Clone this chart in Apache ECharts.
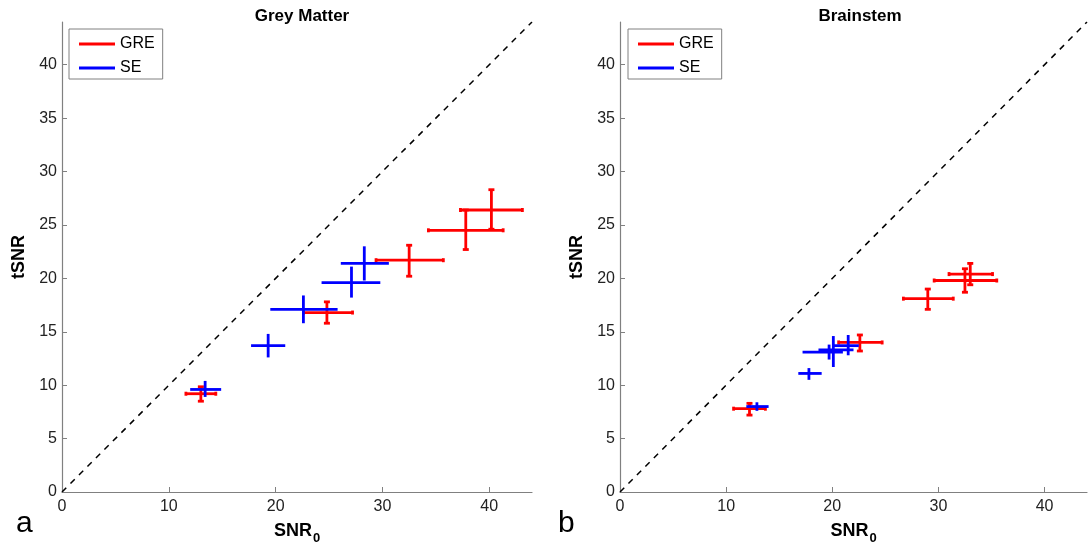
<!DOCTYPE html>
<html lang="en">
<head>
    <meta charset="UTF-8">
    <title>tSNR vs SNR0</title>
    <script src="https://cdn.jsdelivr.net/npm/echarts@6/dist/echarts.min.js"></script>
</head>
<body style="margin:0;background:#fff">
<div id="chart" style="width:1089px;height:550px"></div>

<script type="text/javascript">
    // each row: [snr0, tsnr, snr0 low, snr0 high, tsnr low, tsnr high]
    var gmGre = [
        [13.0, 9.2, 11.6, 14.4, 8.5, 9.85],
        [24.8, 16.8, 22.6, 27.2, 15.8, 17.8],
        [32.5, 21.7, 29.4, 35.7, 20.2, 23.1],
        [37.8, 24.5, 34.3, 41.3, 22.7, 26.4],
        [40.2, 26.4, 37.3, 43.1, 24.6, 28.3]
    ];
    var gmSe = [
        [13.4, 9.6, 12.0, 14.9, 8.9, 10.4],
        [19.3, 13.7, 17.7, 20.9, 12.6, 14.8],
        [22.6, 17.1, 19.5, 25.8, 15.8, 18.4],
        [27.1, 19.6, 24.3, 29.8, 18.2, 21.1],
        [28.3, 21.4, 26.1, 30.6, 19.8, 23.0]
    ];
    var bsGre = [
        [12.2, 7.8, 10.7, 13.7, 7.2, 8.3],
        [22.6, 14.0, 20.6, 24.7, 13.2, 14.7],
        [29.0, 18.1, 26.7, 31.4, 17.1, 19.0],
        [32.5, 19.8, 29.6, 35.5, 18.7, 20.9],
        [33.0, 20.4, 31.0, 35.1, 19.4, 21.4]
    ];
    var bsSe = [
        [12.9, 8.0, 11.9, 14.0, 7.6, 8.4],
        [17.8, 11.1, 16.8, 19.0, 10.5, 11.6],
        [20.1, 13.1, 17.2, 21.0, 11.7, 14.6],
        [19.7, 13.3, 18.7, 22.0, 12.4, 13.8],
        [21.5, 13.7, 20.0, 22.5, 12.8, 14.7]
    ];
    var xTicks = [0, 10, 20, 30, 40];
    var yTicks = [0, 5, 10, 15, 20, 25, 30, 35, 40];
    var unity = [[0, 0], [44, 44]];

    var font = 'Liberation Sans, Arial, Helvetica, sans-serif';

    function errRender(caps) {
        return function (params, api) {
            var x = api.value(0), y = api.value(1);
            var h0 = api.coord([api.value(2), y]);
            var h1 = api.coord([api.value(3), y]);
            var v0 = api.coord([x, api.value(4)]);
            var v1 = api.coord([x, api.value(5)]);
            var st = {stroke: api.visual('color'), lineWidth: 2.8};
            var kids = [
                {type: 'line', shape: {x1: h0[0], y1: h0[1], x2: h1[0], y2: h1[1]}, style: st},
                {type: 'line', shape: {x1: v0[0], y1: v0[1], x2: v1[0], y2: v1[1]}, style: st}
            ];
            if (caps) {
                [v0, v1].forEach(function (p) {
                    kids.push({type: 'line', shape: {x1: p[0] - 3, y1: p[1], x2: p[0] + 3, y2: p[1]}, style: st});
                });
                [h0, h1].forEach(function (p) {
                    kids.push({type: 'line', shape: {x1: p[0], y1: p[1] - 2, x2: p[0], y2: p[1] + 2}, style: st});
                });
            }
            return {type: 'group', children: kids};
        };
    }

    function xAxis(idx) {
        return {
            type: 'value', gridIndex: idx, min: 0, max: 44,
            name: '{a|SNR}{b|0}', nameLocation: 'middle', nameGap: 26,
            nameTextStyle: {
                rich: {
                    a: {fontFamily: font, fontWeight: 'bold', fontSize: 18, color: '#000'},
                    b: {fontFamily: font, fontWeight: 'bold', fontSize: 13, color: '#000', padding: [14, 0, 0, 1]}
                }
            },
            axisLine: {lineStyle: {color: '#808080', width: 1.2}},
            axisTick: {inside: true, length: 5, customValues: xTicks, lineStyle: {color: '#808080'}},
            axisLabel: {customValues: xTicks, fontFamily: font, fontSize: 16, color: '#222', margin: 7},
            splitLine: {show: false}
        };
    }

    function yAxis(idx) {
        return {
            type: 'value', gridIndex: idx, min: 0, max: 44,
            name: 'tSNR', nameLocation: 'middle', nameGap: 34, nameRotate: 90,
            nameTextStyle: {fontFamily: font, fontWeight: 'bold', fontSize: 18, color: '#000'},
            axisLine: {show: true, lineStyle: {color: '#808080', width: 1.2}},
            axisTick: {show: true, inside: true, length: 5, customValues: yTicks, lineStyle: {color: '#808080'}},
            axisLabel: {customValues: yTicks, fontFamily: font, fontSize: 16, color: '#222', margin: 5},
            splitLine: {show: false}
        };
    }

    function legend(left) {
        return {
            left: left, top: 29, orient: 'vertical',
            data: ['GRE', 'SE'],
            icon: 'rect', itemWidth: 36, itemHeight: 3, itemGap: 8,
            padding: [7, 8, 3, 10],
            borderColor: '#808080', borderWidth: 1, backgroundColor: '#fff',
            textStyle: {fontFamily: font, fontSize: 16, color: '#000'}
        };
    }

    function errSeries(name, color, caps, data, idx) {
        return {
            name: name, type: 'custom', xAxisIndex: idx, yAxisIndex: idx,
            itemStyle: {color: color},
            renderItem: errRender(caps),
            encode: {x: 0, y: 1},
            data: data, z: 3
        };
    }

    function unitySeries(idx) {
        return {
            type: 'line', xAxisIndex: idx, yAxisIndex: idx, data: unity,
            symbol: 'none', silent: true, z: 1,
            lineStyle: {color: '#000', width: 1.5, type: [6, 6]}
        };
    }

    var chart = echarts.init(document.getElementById('chart'));
    chart.setOption({
        backgroundColor: '#fff',
        animation: false,
        title: [
            {text: 'Grey Matter', left: 297, top: 3, textAlign: 'center',
             textStyle: {fontFamily: font, fontWeight: 'bold', fontSize: 17, color: '#000'}},
            {text: 'Brainstem', left: 855, top: 3, textAlign: 'center',
             textStyle: {fontFamily: font, fontWeight: 'bold', fontSize: 17, color: '#000'}},
            {text: 'a', left: 11, top: 504,
             textStyle: {fontFamily: font, fontWeight: 'normal', fontSize: 30, color: '#000'}},
            {text: 'b', left: 553, top: 504,
             textStyle: {fontFamily: font, fontWeight: 'normal', fontSize: 30, color: '#000'}}
        ],
        legend: [legend(69), legend(628)],
        grid: [
            {left: 62, top: 22, width: 470, height: 471},
            {left: 620, top: 22, width: 467, height: 471}
        ],
        xAxis: [xAxis(0), xAxis(1)],
        yAxis: [yAxis(0), yAxis(1)],
        series: [
            unitySeries(0),
            errSeries('GRE', '#ff0000', true, gmGre, 0),
            errSeries('SE', '#0000ff', false, gmSe, 0),
            unitySeries(1),
            errSeries('GRE', '#ff0000', true, bsGre, 1),
            errSeries('SE', '#0000ff', false, bsSe, 1)
        ]
    });
</script>
</body>
</html>
